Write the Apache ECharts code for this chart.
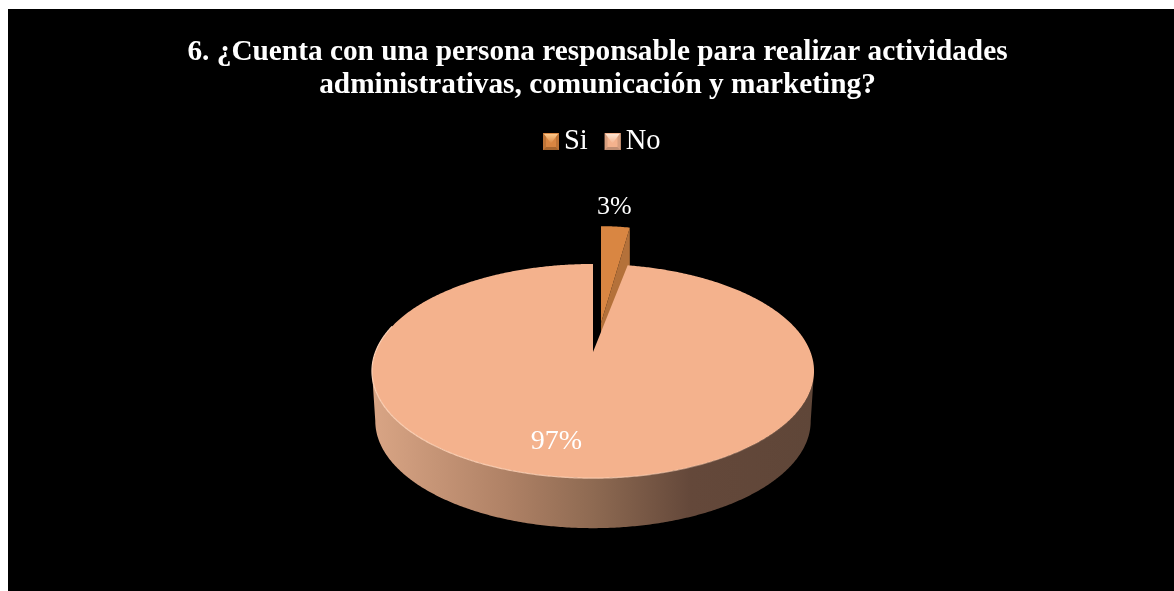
<!DOCTYPE html>
<html>
<head>
<meta charset="utf-8">
<style>
  html, body { margin: 0; padding: 0; background: #ffffff; overflow: hidden; }
  #chart { position: absolute; left: 8px; top: 9px; width: 1166px; height: 582px; background: #000000; }
</style>
<script src="https://cdn.jsdelivr.net/npm/echarts@6/dist/echarts.min.js"></script>
</head>
<body>
<div id="chart"></div>
<script>
// Survey answers
const categories = ['Si', 'No'];
const values = [3, 97];
const titleLines = [
  '6. ¿Cuenta con una persona responsable para realizar actividades',
  'administrativas, comunicación y marketing?'
];

// Palette per answer
const topColors = ['#d98642', '#f4b28d'];
const wallColors = ['#b4713a', '#8e6a52'];
const swatchLight = ['#ffc98a', '#ffe6d2'];
const swatchDark = ['#a7662f', '#c08e72'];

const serifFont = '"Liberation Serif", "Times New Roman", serif';

// Projection of the pie disc: a circle seen in perspective, centre in chart pixels
const cx = 585, cy = 343;
const radiusX = 217.5, radiusY = 103.7, tilt = 0.178;
const depth = 50, floorShrink = 0.985;

const total = values.reduce((a, b) => a + b, 0);
const toRad = d => d * Math.PI / 180;

// Clockwise degrees from twelve o'clock, radius as a fraction of the disc
function project(deg, r) {
  const u = r * Math.sin(toRad(deg));
  const v = r * Math.cos(toRad(deg));
  const w = 1 + tilt * v;
  return [radiusX * u / w, -radiusY * v / w];
}

function arc(from, to, map) {
  const pts = [];
  const steps = Math.max(2, Math.ceil(Math.abs(to - from) * 2));
  for (let i = 0; i <= steps; i++) {
    pts.push(map(project(from + (to - from) * i / steps, 1)));
  }
  return pts;
}

function sliceAngles(index) {
  let start = 0;
  for (let i = 0; i < index; i++) start += values[i] / total * 360;
  return [start, start + values[index] / total * 360];
}

// The pulled-out slice: shifted away from the viewer and slightly reshaped
function renderSi(params, api) {
  const [a0, a1] = sliceAngles(0);
  const pulled = p => [cx + 8 + p[0] * 0.83, cy - 29 + p[1] * 1.1];
  const apex = pulled([0, 0]);
  const rim = arc(a0, a1, pulled);
  const end = rim[rim.length - 1];
  const pct = Math.round(api.value(0) / total * 100) + '%';
  const mid = pulled(project((a0 + a1) / 2, 1));
  return {
    type: 'group',
    children: [
      {
        type: 'polygon',
        shape: { points: [apex, end, [end[0], end[1] + depth], [apex[0], apex[1] + depth]] },
        style: { fill: wallColors[0] }
      },
      {
        type: 'polygon',
        shape: { points: [apex].concat(rim) },
        style: { fill: topColors[0] }
      },
      {
        type: 'text',
        style: {
          text: pct, x: mid[0] - 1, y: mid[1] - 19,
          font: '26px ' + serifFont, fill: '#ffffff',
          align: 'center', verticalAlign: 'middle'
        }
      }
    ]
  };
}

// The large slice: front wall, top face with a light front edge, value label
function renderNo(params, api) {
  const [a0, a1] = sliceAngles(1);
  const place = p => [cx + p[0], cy + p[1]];
  const floor = p => [cx + p[0] * floorShrink, cy + p[1] + depth];
  const widest = 90 + Math.asin(tilt) * 180 / Math.PI;
  const wall = arc(widest, 360 - widest, place)
    .concat(arc(360 - widest, widest, floor));
  const labelAt = place(project((a0 + a1) / 2, 0.75));
  const pct = Math.round(api.value(0) / total * 100) + '%';
  return {
    type: 'group',
    children: [
      {
        type: 'polygon',
        shape: { points: wall },
        style: {
          fill: new echarts.graphic.LinearGradient(0, 0, 1, 0, [
            { offset: 0, color: '#d9a585' },
            { offset: 0.3, color: '#b08266' },
            { offset: 0.5, color: '#8e6a52' },
            { offset: 0.72, color: '#64483a' },
            { offset: 1, color: '#5f4638' }
          ])
        }
      },
      {
        type: 'polygon',
        shape: { points: [place([0, 0])].concat(arc(a0, a1, place)) },
        style: { fill: topColors[1] }
      },
      {
        type: 'polyline',
        shape: { points: arc(110, 285, place) },
        style: {
          fill: 'none',
          lineWidth: 1.2,
          stroke: new echarts.graphic.LinearGradient(0, 0, 1, 0, [
            { offset: 0, color: 'rgba(253,208,180,1)' },
            { offset: 0.55, color: 'rgba(253,208,180,0.8)' },
            { offset: 1, color: 'rgba(253,208,180,0)' }
          ])
        }
      },
      {
        type: 'text',
        style: {
          text: pct, x: labelAt[0] - 19, y: labelAt[1],
          font: '28px ' + serifFont, fill: '#ffffff',
          align: 'center', verticalAlign: 'middle'
        }
      }
    ]
  };
}

// Bevel facets laid over the legend keys
const swatchW = 16, swatchH = 17, swatchTop = 124;
const swatchLefts = [535, 596.5];
const bevels = [];
swatchLefts.forEach((x, i) => {
  const y = swatchTop;
  bevels.push({
    type: 'polygon', z: 20,
    shape: { points: [[x, y], [x + 3, y + 3], [x + 3, y + swatchH - 3], [x, y + swatchH]] },
    style: { fill: swatchDark[i], opacity: 0.55 }
  }, {
    type: 'polygon', z: 20,
    shape: { points: [[x + swatchW, y], [x + swatchW - 3, y + 3], [x + swatchW - 3, y + swatchH - 3], [x + swatchW, y + swatchH]] },
    style: { fill: swatchDark[i], opacity: 0.55 }
  }, {
    type: 'polygon', z: 20,
    shape: { points: [[x, y + swatchH], [x + 3, y + swatchH - 3], [x + swatchW - 3, y + swatchH - 3], [x + swatchW, y + swatchH]] },
    style: { fill: swatchDark[i] }
  }, {
    type: 'polygon', z: 21,
    shape: { points: [[x + 1, y + 1], [x + swatchW - 1, y + 1], [x + swatchW / 2, y + swatchH * 0.62]] },
    style: {
      fill: new echarts.graphic.LinearGradient(0, 0, 0, 1, [
        { offset: 0, color: swatchLight[i] },
        { offset: 1, color: topColors[i] }
      ])
    }
  });
});

const chart = echarts.init(document.getElementById('chart'));
chart.setOption({
  animation: false,
  backgroundColor: '#000000',
  title: {
    text: titleLines.join('\n'),
    left: 589.5,
    top: 27,
    padding: 0,
    textAlign: 'center',
    textStyle: {
      fontFamily: serifFont, fontWeight: 'bold', fontSize: 29.3,
      lineHeight: 33, color: '#ffffff'
    }
  },
  legend: {
    data: categories,
    left: 535,
    top: swatchTop - 6,
    padding: 0,
    icon: 'rect',
    itemWidth: swatchW,
    itemHeight: swatchH,
    itemGap: 17,
    selectedMode: false,
    textStyle: { fontFamily: serifFont, fontSize: 28.5, color: '#ffffff' }
  },
  graphic: bevels,
  series: [
    {
      type: 'custom', name: categories[0], coordinateSystem: 'none',
      data: [[values[0]]], renderItem: renderSi,
      itemStyle: { color: topColors[0] }, silent: true
    },
    {
      type: 'custom', name: categories[1], coordinateSystem: 'none',
      data: [[values[1]]], renderItem: renderNo,
      itemStyle: { color: topColors[1] }, silent: true
    }
  ]
});
</script>
</body>
</html>
